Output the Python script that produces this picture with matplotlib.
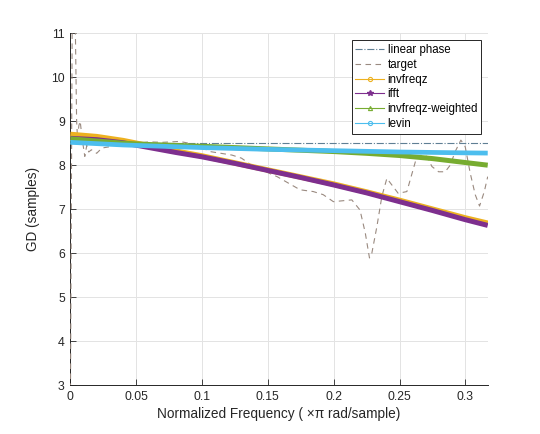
import matplotlib
matplotlib.use("Agg")
import matplotlib.pyplot as plt
from matplotlib.lines import Line2D

plt.rcParams['font.family'] = ['Liberation Sans', 'DejaVu Sans']

# ---- data ----
linear_phase_x = [0.0, 0.317]
linear_phase_y = [8.5, 8.5]

target_x = [0.0, 0.0015, 0.0035, 0.0048, 0.0055, 0.0065, 0.0075, 0.009, 0.011,
            0.0125, 0.014, 0.016, 0.02, 0.024, 0.03, 0.035, 0.05, 0.06, 0.07,
            0.083, 0.09, 0.0987, 0.106, 0.1227, 0.130, 0.139, 0.157, 0.1745,
            0.1845, 0.192, 0.1998, 0.21, 0.2138, 0.220, 0.224, 0.2272, 0.229,
            0.2328, 0.2366, 0.2404, 0.2442, 0.249, 0.2556, 0.2632, 0.267,
            0.2708, 0.2746, 0.2797, 0.2847, 0.2885, 0.2923, 0.2966, 0.2999,
            0.3037, 0.3075, 0.3108, 0.3144, 0.317]
target_y = [2.0, 11.8, 11.8, 9.0, 8.6, 8.9, 9.0, 8.6, 8.2,
            8.45, 8.3, 8.35, 8.27, 8.39, 8.42, 8.5, 8.5, 8.53, 8.52,
            8.54, 8.5, 8.42, 8.31, 8.23, 8.16, 7.97, 7.74, 7.44,
            7.40, 7.33, 7.17, 7.20, 7.21, 6.98, 6.46, 5.89, 6.0,
            6.6, 7.29, 7.7, 7.55, 7.36, 7.40, 8.2, 8.23,
            8.2, 7.97, 7.85, 7.85, 8.0, 8.31, 8.57, 8.42,
            7.82, 7.33, 7.07, 7.4, 7.74]

freq_x = [0.0, 0.02, 0.04, 0.06, 0.08, 0.1, 0.125, 0.15, 0.175, 0.2, 0.225,
          0.25, 0.275, 0.3, 0.317]
invfreqz_y = [8.70, 8.65, 8.56, 8.44, 8.32, 8.21, 8.05, 7.89, 7.73, 7.57,
              7.39, 7.20, 7.00, 6.80, 6.68]
ifft_y = [8.61, 8.58, 8.51, 8.40, 8.29, 8.19, 8.04, 7.88, 7.72, 7.55,
          7.37, 7.17, 6.97, 6.76, 6.63]
weighted_y = [8.60, 8.55, 8.50, 8.47, 8.45, 8.43, 8.40, 8.37, 8.34, 8.31,
              8.27, 8.22, 8.15, 8.06, 8.0]
levin_y = [8.52, 8.49, 8.46, 8.44, 8.42, 8.40, 8.38, 8.36, 8.345, 8.33,
           8.315, 8.30, 8.29, 8.28, 8.275]

labels = ['linear phase', 'target', 'invfreqz', 'ifft', 'invfreqz-weighted', 'levin']
xticks = [0, 0.05, 0.1, 0.15, 0.2, 0.25, 0.3]
xticklabels = ['0', '0.05', '0.1', '0.15', '0.2', '0.25', '0.3']
yticks = [3, 4, 5, 6, 7, 8, 9, 10, 11]

# ---- styles ----
c_lin = '#5f7f94'
c_tgt = '#9a8a80'
c_inv = '#EDB120'
c_ifft = '#7E2F8E'
c_w = '#77AC30'
c_lev = '#4DBEEE'

fig = plt.figure(figsize=(5.4, 4.34), dpi=100)
ax = fig.add_axes([0.1302, 0.1129, 0.773, 0.8104])

ax.plot(linear_phase_x, linear_phase_y, linestyle='-.', color=c_lin, lw=0.8, zorder=3)
ax.plot(target_x, target_y, linestyle=(0, (5, 4)), color=c_tgt, lw=0.8, zorder=3)
ax.plot(freq_x, invfreqz_y, color=c_inv, lw=3.9, solid_capstyle='butt', zorder=4)
ax.plot(freq_x, ifft_y, color=c_ifft, lw=3.6, solid_capstyle='butt', zorder=5)
ax.plot(freq_x, weighted_y, color=c_w, lw=3.6, solid_capstyle='butt', zorder=6)
ax.plot(freq_x, levin_y, color=c_lev, lw=3.4, solid_capstyle='butt', zorder=7)

ax.set_xlim(0, 0.317)
ax.set_ylim(3, 11)
ax.set_xticks(xticks)
ax.set_xticklabels(xticklabels)
ax.set_yticks(yticks)
ax.grid(True, color='#e3e3e3', lw=0.7, zorder=0)
ax.set_axisbelow(True)

for s in ['top', 'right']:
    ax.spines[s].set_visible(False)
for s in ['left', 'bottom']:
    ax.spines[s].set_color('#262626')
    ax.spines[s].set_linewidth(0.7)
ax.tick_params(direction='in', length=4, width=0.6, colors='#262626',
               labelsize=8.8, pad=4)

ax.set_xlabel('Normalized Frequency ( \u00d7\u03c0 rad/sample)', fontsize=9.8,
              color='#262626', labelpad=3)
ax.set_ylabel('GD (samples)', fontsize=9.8, color='#262626', labelpad=8)

handles = [
    Line2D([], [], linestyle='-.', color=c_lin, lw=0.8),
    Line2D([], [], linestyle=(0, (5, 4)), color=c_tgt, lw=0.8),
    Line2D([], [], color=c_inv, lw=0.8, marker='o', markersize=3,
           markerfacecolor='none', markeredgewidth=0.8),
    Line2D([], [], color=c_ifft, lw=0.8, marker='*', markersize=4),
    Line2D([], [], color=c_w, lw=0.8, marker='^', markersize=3,
           markerfacecolor='none', markeredgewidth=0.8),
    Line2D([], [], color=c_lev, lw=0.8, marker='o', markersize=3,
           markerfacecolor='none', markeredgewidth=0.8),
]
leg = ax.legend(handles, labels, loc='upper right', bbox_to_anchor=(0.985, 0.98),
                fontsize=8.3, frameon=True, fancybox=False, framealpha=1,
                edgecolor='#262626', handlelength=2.5, handletextpad=0.3,
                labelspacing=0.25, borderpad=0.3, borderaxespad=0.0)
leg.get_frame().set_linewidth(0.7)
leg.set_zorder(10)

fig.savefig('out.png', dpi=100, facecolor='white')
